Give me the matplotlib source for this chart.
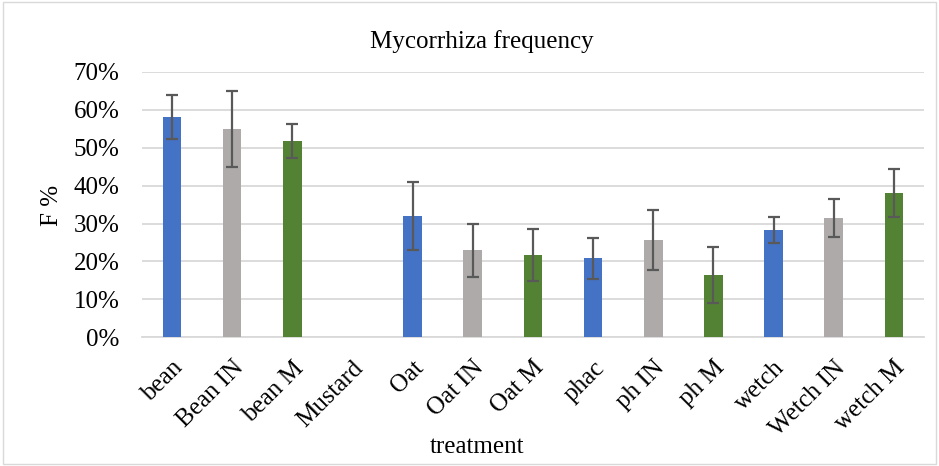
import matplotlib.pyplot as plt
from matplotlib.patches import Rectangle
from matplotlib.ticker import PercentFormatter

treatments = ["bean", "Bean IN", "bean M", "Mustard", "Oat", "Oat IN", "Oat M",
              "phac", "ph IN", "ph M", "wetch", "Wetch IN", "wetch M"]
freq = [0.581, 0.549, 0.517, 0.002, 0.320, 0.230, 0.217,
        0.208, 0.256, 0.164, 0.283, 0.314, 0.380]
err = [0.057, 0.101, 0.045, 0.0, 0.089, 0.070, 0.069,
       0.055, 0.079, 0.073, 0.035, 0.050, 0.063]

blue = "#4472C4"
grey = "#AEAAAA"
green = "#548235"
colors = [blue, grey, green, grey, blue, grey, green,
          blue, grey, green, blue, grey, green]

plt.rcParams['font.family'] = ['Liberation Serif', 'DejaVu Serif']

fig = plt.figure(figsize=(9.39, 4.66), dpi=100)
ax = fig.add_axes([0.151, 0.276, 0.833, 0.570])

x = list(range(len(treatments)))
ax.bar(x, freq, width=0.31, color=colors, zorder=3)
# no error bar where there is no spread (Mustard)
idx = [i for i in x if err[i] > 0]
ax.errorbar([x[i] for i in idx], [freq[i] for i in idx], yerr=[err[i] for i in idx],
            fmt="none", ecolor="#595959", elinewidth=1.6,
            capsize=4.5, capthick=1.6, zorder=4)

ax.set_ylim(0, 0.7)
ax.set_xlim(-0.5, len(treatments) - 0.5)
ax.set_yticks([i / 10 for i in range(8)])
ax.yaxis.set_major_formatter(PercentFormatter(1.0, decimals=0))
ax.grid(axis="y", color="#D9D9D9", linewidth=1.3, zorder=0)
for s in ["top", "right", "left"]:
    ax.spines[s].set_visible(False)
ax.spines["bottom"].set_color("#D9D9D9")
ax.spines["bottom"].set_linewidth(1.3)
ax.tick_params(axis="both", length=0, labelsize=18, colors="black")
ax.tick_params(axis="y", pad=16)
ax.tick_params(axis="x", pad=14)
ax.set_xticks(x)
ax.set_xticklabels(treatments, rotation=45, ha="right", rotation_mode="anchor")

fig.text(0.513, 0.91, "Mycorrhiza frequency", ha="center", va="center", fontsize=18)
fig.text(0.055, 0.56, "F %", ha="center", va="center", rotation=90, fontsize=18)
fig.text(0.508, 0.028, "treatment", ha="center", fontsize=18)

fig.patches.append(Rectangle((0.003, 0.004), 0.994, 0.992, transform=fig.transFigure,
                             fill=False, edgecolor="#D9D9D9", linewidth=1))

fig.savefig("out.png", dpi=100)
